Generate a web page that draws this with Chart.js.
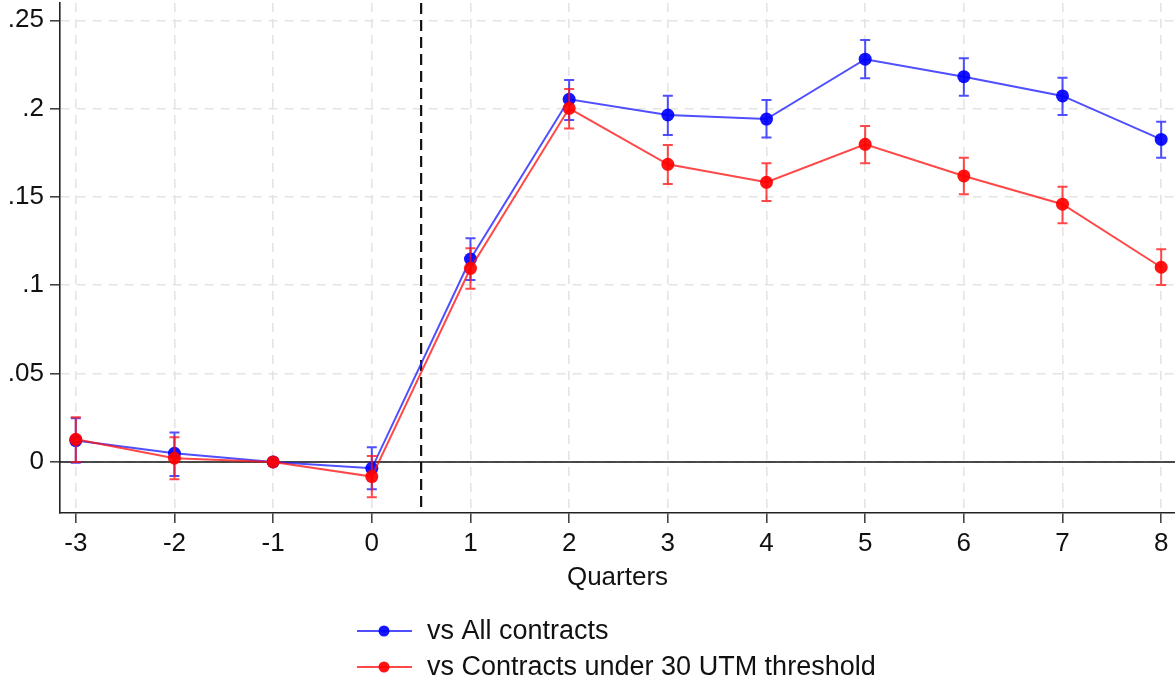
<!DOCTYPE html>
<html>
<head>
<meta charset="utf-8">
<script src="https://cdn.jsdelivr.net/npm/chart.js@4"></script>
<style>
  html, body { margin: 0; padding: 0; background: #fff; }
  canvas { display: block; }
</style>
</head>
<body>
<canvas id="chart1" width="1175" height="685"></canvas>
<script>
// event-study estimates by quarter, with 95% CI bounds
const quarters = [-3, -2, -1, 0, 1, 2, 3, 4, 5, 6, 7, 8];

const allContracts = [0.0121, 0.0049, 0, -0.0036, 0.1149, 0.2053, 0.1964, 0.1941, 0.2280, 0.2181, 0.2072, 0.1826];
const allLow = [-0.0004, -0.0079, null, -0.0155, 0.1030, 0.1936, 0.1851, 0.1836, 0.2172, 0.2073, 0.1964, 0.1722];
const allHigh = [0.0247, 0.0166, null, 0.0083, 0.1266, 0.2162, 0.2073, 0.2049, 0.2389, 0.2285, 0.2175, 0.1926];

const under30 = [0.0128, 0.0021, 0, -0.0083, 0.1096, 0.2002, 0.1685, 0.1583, 0.1798, 0.1619, 0.1459, 0.1102];
const under30Low = [0.0000, -0.0098, null, -0.0200, 0.0980, 0.1888, 0.1574, 0.1477, 0.1691, 0.1515, 0.1351, 0.1002];
const under30High = [0.0253, 0.0140, null, 0.0034, 0.1210, 0.2111, 0.1794, 0.1691, 0.1902, 0.1722, 0.1558, 0.1204];

const yTicks = [0, 0.05, 0.1, 0.15, 0.2, 0.25];
const yTickLabels = ['0', '.05', '.1', '.15', '.2', '.25'];
const seriesNames = ['vs All contracts', 'vs Contracts under 30 UTM threshold'];

const FONT = 'Liberation Sans, Arial, Helvetica, sans-serif';
const BLUE_LINE = 'rgba(30,30,255,0.78)';
const BLUE_DOT = 'rgba(0,0,255,0.92)';
const RED_LINE = 'rgba(255,20,20,0.78)';
const RED_DOT = 'rgba(255,0,0,0.92)';

function toPoints(ys) {
    return quarters.map((q, i) => ({ x: q, y: ys[i] }));
}

// no extra room for edge labels, the plot runs to the canvas edges
function noEdgePadding(s) {
    s.paddingTop = 0;
    s.paddingBottom = 0;
    s.paddingLeft = 0;
    s.paddingRight = 0;
}

// capped error bars, drawn under each dataset's line and markers
const errorBars = {
    id: 'errorBars',
    beforeDatasetDraw(chart, args) {
        const ds = chart.data.datasets[args.index];
        const xs = chart.scales.x, ys = chart.scales.y;
        const ctx = chart.ctx;
        ctx.save();
        ctx.strokeStyle = ds.borderColor;
        ctx.lineWidth = 2;
        quarters.forEach((q, i) => {
            if (ds.low[i] == null) return;
            const px = xs.getPixelForValue(q);
            const y1 = ys.getPixelForValue(ds.low[i]);
            const y2 = ys.getPixelForValue(ds.high[i]);
            ctx.beginPath();
            ctx.moveTo(px, y1); ctx.lineTo(px, y2);
            ctx.moveTo(px - 5, y1); ctx.lineTo(px + 5, y1);
            ctx.moveTo(px - 5, y2); ctx.lineTo(px + 5, y2);
            ctx.stroke();
        });
        ctx.restore();
    }
};

// zero line and the treatment marker between quarter 0 and 1
const refLines = {
    id: 'refLines',
    beforeDatasetsDraw(chart) {
        const { ctx, chartArea } = chart;
        const xs = chart.scales.x, ys = chart.scales.y;
        ctx.save();
        const y0 = ys.getPixelForValue(0);
        ctx.strokeStyle = '#111';
        ctx.lineWidth = 1.6;
        ctx.beginPath();
        ctx.moveTo(chartArea.left, y0);
        ctx.lineTo(chartArea.right, y0);
        ctx.stroke();

        const xv = xs.getPixelForValue(0.5);
        ctx.lineWidth = 2.2;
        ctx.setLineDash([11, 6]);
        ctx.beginPath();
        ctx.moveTo(xv, chartArea.top);
        ctx.lineTo(xv, chartArea.bottom);
        ctx.stroke();
        ctx.restore();
    }
};

// legend below the axis title: line with dot, then label
const bottomLegend = {
    id: 'bottomLegend',
    afterDraw(chart) {
        const ctx = chart.ctx;
        const rows = [
            { y: 631, line: BLUE_LINE, dot: BLUE_DOT },
            { y: 667, line: RED_LINE, dot: RED_DOT }
        ];
        ctx.save();
        ctx.font = '27px ' + FONT;
        ctx.textBaseline = 'middle';
        rows.forEach((r, i) => {
            ctx.strokeStyle = r.line;
            ctx.lineWidth = 2.2;
            ctx.beginPath();
            ctx.moveTo(357, r.y); ctx.lineTo(412, r.y);
            ctx.stroke();
            ctx.fillStyle = r.dot;
            ctx.beginPath();
            ctx.arc(384, r.y, 5.5, 0, Math.PI * 2);
            ctx.fill();
            ctx.fillStyle = '#111';
            ctx.fillText(seriesNames[i], 427, r.y + 1);
        });
        ctx.restore();
    }
};

const data = {
    datasets: [
        {
            label: seriesNames[1],
            data: toPoints(under30),
            low: under30Low,
            high: under30High,
            borderColor: RED_LINE,
            backgroundColor: RED_DOT,
            pointBackgroundColor: RED_DOT,
            pointBorderWidth: 0,
            pointRadius: 6.5,
            borderWidth: 2,
            tension: 0
        },
        {
            label: seriesNames[0],
            data: toPoints(allContracts),
            low: allLow,
            high: allHigh,
            borderColor: BLUE_LINE,
            backgroundColor: BLUE_DOT,
            pointBackgroundColor: BLUE_DOT,
            pointBorderWidth: 0,
            pointRadius: 6.5,
            borderWidth: 2,
            tension: 0
        }
    ]
};

const gridOpts = {
    color: '#e4e4e4',
    lineWidth: 1.6,
    tickLength: 10,
    tickColor: '#444',
    tickWidth: 1.6,
    tickBorderDash: []
};

const config = {
    type: 'line',
    data: data,
    options: {
        responsive: false,
        animation: false,
        layout: { autoPadding: false, padding: { top: 3, right: 0, left: 0, bottom: 0 } },
        plugins: {
            legend: { display: false },
            tooltip: { enabled: false }
        },
        scales: {
            x: {
                type: 'linear',
                min: -3.16,
                max: 8.14,
                afterBuildTicks: (s) => { s.ticks = quarters.map(v => ({ value: v })); },
                afterFit: (s) => { s.height = 172; noEdgePadding(s); },
                ticks: {
                    color: '#111',
                    font: { family: FONT, size: 26 },
                    padding: 5,
                    maxRotation: 0,
                    callback: (v) => String(v)
                },
                grid: gridOpts,
                border: { display: true, color: '#222', width: 1.6, dash: [9, 7] },
                title: {
                    display: true,
                    text: 'Quarters',
                    color: '#111',
                    font: { family: FONT, size: 26 },
                    padding: { top: 0, bottom: 92 }
                }
            },
            y: {
                min: -0.0289,
                max: 0.2598,
                afterBuildTicks: (s) => { s.ticks = yTicks.map(v => ({ value: v })); },
                afterFit: (s) => { s.width = 60; noEdgePadding(s); },
                ticks: {
                    color: '#111',
                    font: { family: FONT, size: 26 },
                    padding: 6,
                    callback: (v) => {
                        const i = yTicks.findIndex(t => Math.abs(t - v) < 1e-9);
                        return i >= 0 ? yTickLabels[i] : '';
                    }
                },
                grid: gridOpts,
                border: { display: true, color: '#222', width: 1.6, dash: [9, 7] }
            }
        }
    },
    plugins: [refLines, errorBars, bottomLegend]
};

const chart1 = new Chart(document.getElementById('chart1'), config);
</script>
</body>
</html>
